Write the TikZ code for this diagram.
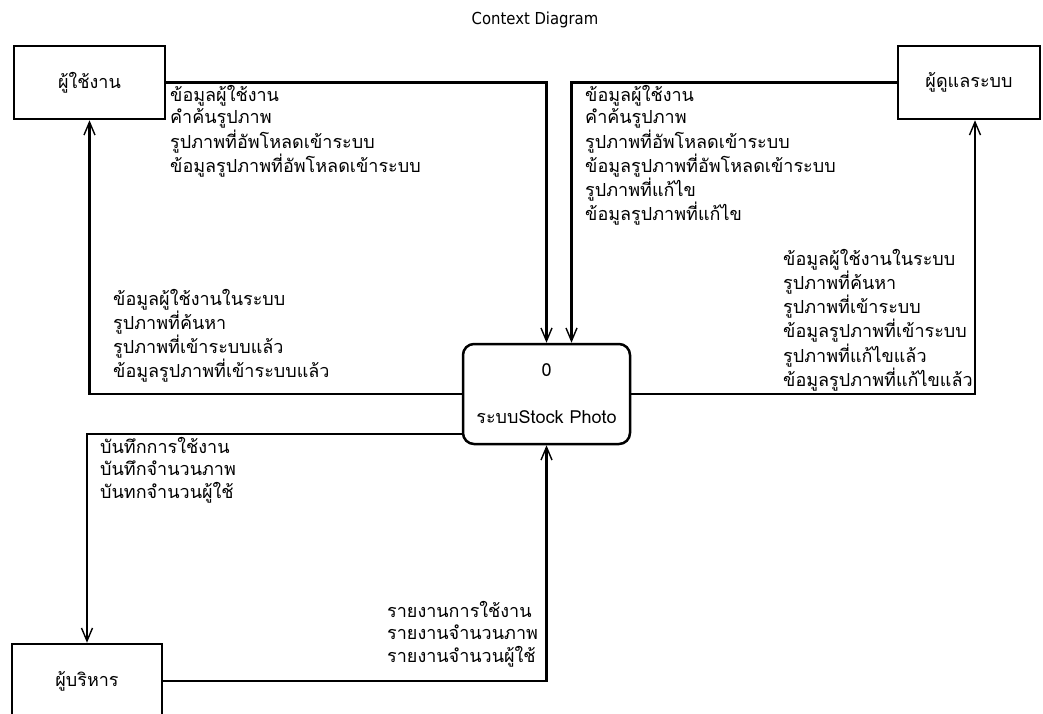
\documentclass[tikz,border=0pt]{standalone}
\usepackage{fontspec}
\usetikzlibrary{arrows.meta}
\newfontfamily\thai[Script=Thai]{Loma}
\newfontfamily\titlefont{DejaVu Sans Condensed}
\begin{document}
\begin{tikzpicture}[x=1pt,y=-1pt,
  box/.style={draw, line width=2.5pt, inner sep=0pt, align=center, font=\thai\fontsize{18}{22}\selectfont},
  entity/.style={box, minimum width=151pt, minimum height=73pt},
  proc/.style={box, rounded corners=11pt, minimum width=167pt, minimum height=100pt},
  flow/.style={line width=2.5pt, -{Straight Barb[length=13pt,width=11pt,line width=1.4pt]}},
  lbl/.style={anchor=north west, inner sep=0pt, align=left, font=\thai\fontsize{18}{22.5}\selectfont},
  ttl/.style={font=\titlefont\fontsize{16.5}{20}\selectfont, inner sep=0pt}]
\useasboundingbox (0,0) rectangle (1043,713);
\node[ttl] (title) at (535,20) {Context Diagram};
\node[entity] (user) at (89.5,82.5) {ผู้ใช้งาน};
\node[entity, minimum width=142pt] (admin) at (969,82.5) {ผู้ดูแลระบบ};
\node[entity, minimum width=150pt, minimum height=74pt] (mgr) at (87,681) {ผู้บริหาร};
\node[proc] (sys) at (546.5,394) {0\\[25pt]ระบบStock Photo};

\draw[flow] (user.east) -| (sys.north);
\draw[flow] (admin.west) -| ([xshift=25pt]sys.north);
\draw[flow] (sys.west) -| (user.south);
\draw[flow] (sys.east) -| ([xshift=6pt]admin.south);
\draw[flow] ([yshift=-40pt]sys.west) -| (mgr.north);
\draw[flow] (mgr.east) -| (sys.south);

\node[lbl] (l1) at (170,85) {ข้อมูลผู้ใช้งาน\\คำค้นรูปภาพ\\รูปภาพที่อัพโหลดเข้าระบบ\\ข้อมูลรูปภาพที่อัพโหลดเข้าระบบ};
\node[lbl] (l2) at (585,85) {ข้อมูลผู้ใช้งาน\\คำค้นรูปภาพ\\รูปภาพที่อัพโหลดเข้าระบบ\\ข้อมูลรูปภาพที่อัพโหลดเข้าระบบ\\รูปภาพที่แก้ไข\\ข้อมูลรูปภาพที่แก้ไข};
\node[lbl] (l3) at (113,289) {ข้อมูลผู้ใช้งานในระบบ\\รูปภาพที่ค้นหา\\รูปภาพที่เข้าระบบแล้ว\\ข้อมูลรูปภาพที่เข้าระบบแล้ว};
\node[lbl] (l4) at (783,249) {ข้อมูลผู้ใช้งานในระบบ\\รูปภาพที่ค้นหา\\รูปภาพที่เข้าระบบ\\ข้อมูลรูปภาพที่เข้าระบบ\\รูปภาพที่แก้ไขแล้ว\\ข้อมูลรูปภาพที่แก้ไขแล้ว};
\node[lbl] (l5) at (100,437) {บันทึกการใช้งาน\\บันทึกจำนวนภาพ\\บันทกจำนวนผู้ใช้};
\node[lbl] (l6) at (387,601) {รายงานการใช้งาน\\รายงานจำนวนภาพ\\รายงานจำนวนผู้ใช้};
\end{tikzpicture}
\end{document}
